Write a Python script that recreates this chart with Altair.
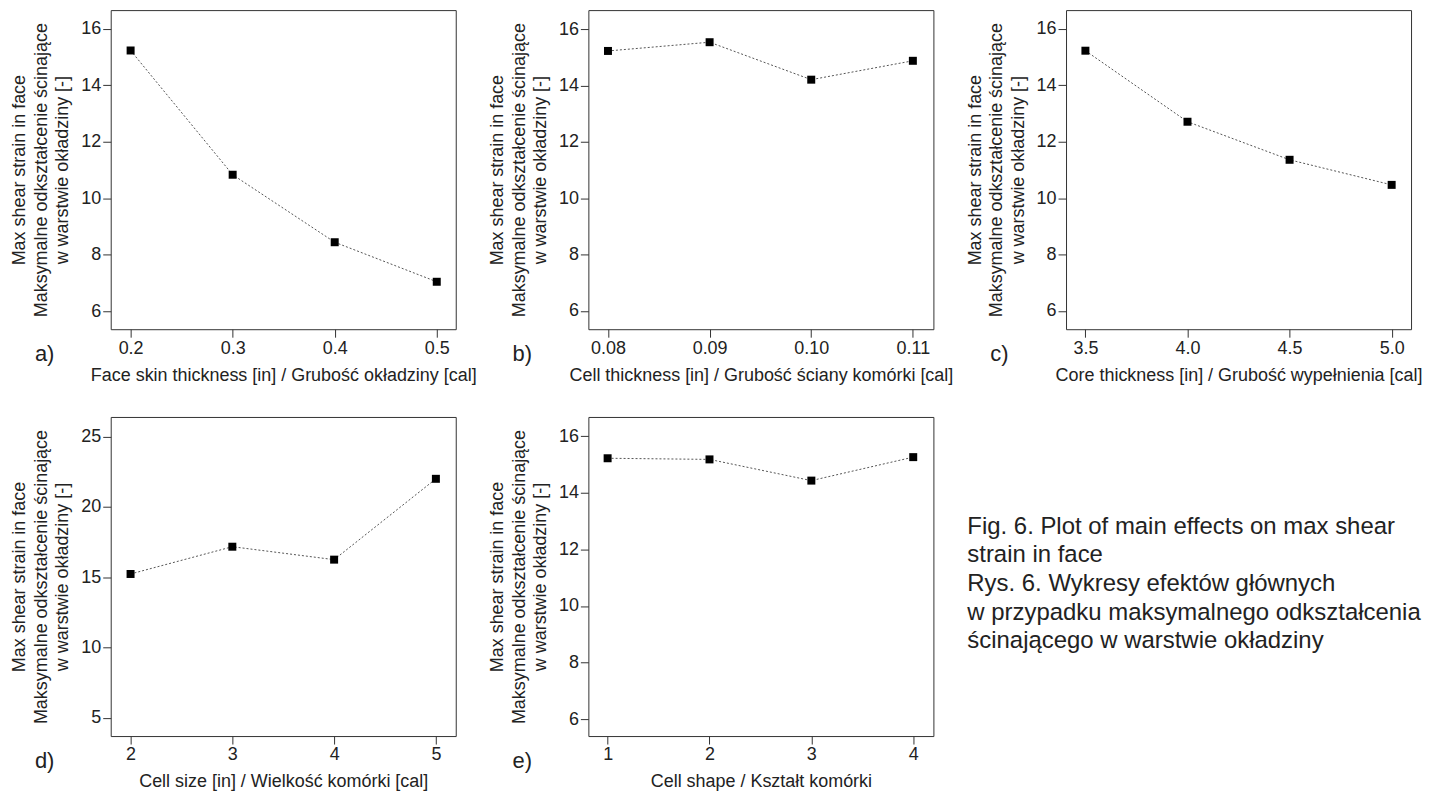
import altair as alt
import pandas as pd

FONT = "Liberation Sans"

y_title = ["Max shear strain in face", "Maksymalne odkształcenie ścinające", "w warstwie okładziny [-]"]

a_x = [0.2, 0.3, 0.4, 0.5]
a_y = [15.23, 10.83, 8.44, 7.04]
b_x = [0.08, 0.09, 0.10, 0.11]
b_y = [15.23, 15.54, 14.21, 14.88]
c_x = [3.5, 4.0, 4.5, 5.0]
c_y = [15.23, 12.71, 11.36, 10.47]
d_x = [2, 3, 4, 5]
d_y = [15.23, 17.17, 16.25, 22.0]
e_x = [1, 2, 3, 4]
e_y = [15.22, 15.18, 14.43, 15.26]

y_ticks_std = [6, 8, 10, 12, 14, 16]
y_ticks_d = [5, 10, 15, 20, 25]

x_titles = [
    "Face skin thickness [in] / Grubość okładziny [cal]",
    "Cell thickness [in] / Grubość ściany komórki [cal]",
    "Core thickness [in] / Grubość wypełnienia [cal]",
    "Cell size [in] / Wielkość komórki [cal]",
    "Cell shape / Kształt komórki",
]
letters = ["a)", "b)", "c)", "d)", "e)"]

caption_lines = [
    "Fig. 6. Plot of main effects on max shear",
    "strain in face",
    "Rys. 6. Wykresy efektów głównych",
    "w przypadku maksymalnego odkształcenia",
    "ścinającego w warstwie okładziny",
]

W, H = 346, 320


def panel(xs, ys, letter, xtitle, xdom, ydom, yticks, xfmt):
    df = pd.DataFrame({"x": xs, "y": ys})
    base = alt.Chart(df)
    xenc = alt.X(
        "x:Q",
        scale=alt.Scale(domain=xdom, nice=False, zero=False),
        axis=alt.Axis(values=xs, format=xfmt, title=xtitle),
    )
    yenc = alt.Y(
        "y:Q",
        scale=alt.Scale(domain=ydom, nice=False, zero=False),
        axis=alt.Axis(values=yticks, title=y_title),
    )
    line = base.mark_line(strokeDash=[2, 2], color="#555555", strokeWidth=1).encode(x=xenc, y=yenc)
    pts = base.mark_square(size=64, color="black", opacity=1).encode(x="x:Q", y="y:Q")
    lab = (
        alt.Chart(pd.DataFrame({"t": [letter]}))
        .mark_text(align="left", baseline="middle", fontSize=22, font=FONT, color="#222222")
        .encode(x=alt.value(-76), y=alt.value(H + 25), text="t:N")
    )
    return alt.layer(line, pts, lab).properties(width=W, height=H)


pa = panel(a_x, a_y, letters[0], x_titles[0], [0.1805, 0.5186], [5.36, 16.66], y_ticks_std, ".1f")
pb = panel(b_x, b_y, letters[1], x_titles[1], [0.07807, 0.11202], [5.35, 16.68], y_ticks_std, ".2f")
pc = panel(c_x, c_y, letters[2], x_titles[2], [3.405, 5.095], [5.35, 16.67], y_ticks_std, ".1f")
pd_ = panel(d_x, d_y, letters[3], x_titles[3], [1.805, 5.195], [3.7, 26.4], y_ticks_d, "d")
pe = panel(e_x, e_y, letters[4], x_titles[4], [0.811, 4.198], [5.4, 16.68], y_ticks_std, "d")

cap = (
    alt.Chart(pd.DataFrame({"t": ["\n".join(caption_lines)]}))
    .mark_text(align="left", baseline="alphabetic", fontSize=24, lineHeight=28.75,
               lineBreak="\n", font=FONT, color="#222222")
    .encode(x=alt.value(-99), y=alt.value(117), text="t:N")
    .properties(width=W, height=H, view=alt.ViewBackground(stroke="transparent"))
)

chart = (
    alt.concat(pa, pb, pc, pd_, pe, cap, columns=3,
               spacing={"row": 88, "column": 133}, bounds="flush")
    .properties(padding={"left": 2, "top": 0, "right": 5, "bottom": 5}, background="white")
    .configure_axis(
        labelFont=FONT, labelFontSize=18, labelColor="#222222",
        titleFont=FONT, titleFontSize=18, titleFontWeight="normal", titleColor="#222222",
        titleLineHeight=21.5, tickColor="#333333", tickSize=8, domain=False, grid=False,
        labelPadding=2,
    )
    .configure_axisY(titlePadding=9)
    .configure_axisX(titlePadding=9)
    .configure_view(stroke="#333333", strokeWidth=1)
)

chart.save("out.html", embed_options={"renderer": "svg", "actions": False})
